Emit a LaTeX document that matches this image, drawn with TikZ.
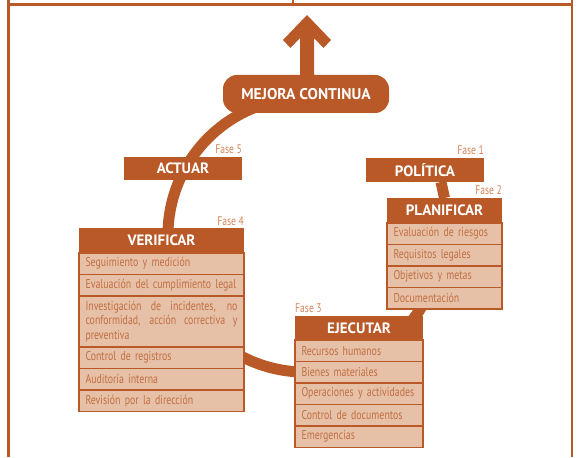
\documentclass[tikz,border=0pt]{standalone}
\usepackage{fontspec}
\setmainfont{PT Sans}[FakeStretch=0.77]
\newfontfamily\capsfont{PT Sans}
\usetikzlibrary{positioning,backgrounds}

\definecolor{rust}{RGB}{185,89,39}
\definecolor{peach}{RGB}{230,193,167}
\definecolor{itemtxt}{RGB}{194,110,66}
\definecolor{phasetxt}{RGB}{212,132,90}

\tikzset{
  x=1pt, y=1pt,
  head/.style={fill=rust, text=white, inner sep=0pt, outer sep=0pt,
    font=\capsfont\bfseries\fontsize{15}{15}\selectfont},
  item/.style={draw=rust, line width=1.6pt, fill=peach, text=itemtxt,
    inner xsep=6.5pt, inner ysep=0pt, outer sep=0pt, align=left,
    minimum height=21.5pt, anchor=north,
    font=\fontsize{12.8}{14.5}\selectfont},
  phase/.style={text=phasetxt, inner sep=0pt,
    font=\fontsize{12.5}{12.5}\selectfont},
  ring/.style={draw=rust, line width=11pt},
  frameline/.style={draw=rust, line width=2.6pt},
}

\begin{document}
\begin{tikzpicture}
\useasboundingbox (0,0) rectangle (577,457);

% outer frame
\draw[frameline] (8.7,457) -- (8.7,0);
\draw[frameline] (572,457) -- (572,0);
\draw[frameline] (7.4,452.3) -- (573.3,452.3);
\draw[frameline] (293,457) -- (293,452.3);

% top pill
\node[head, rounded corners=14pt, minimum width=166pt, minimum height=38pt,
  font=\capsfont\bfseries\fontsize{15.5}{15.5}\selectfont]
  (pill) at (306,363) {MEJORA CONTINUA};

% phase headers
\node[head, minimum width=118pt, minimum height=23pt] (act) at (183,288.5) {ACTUAR};
\node[head, minimum width=118pt, minimum height=24pt] (pol) at (425,287) {POLÍTICA};

% VERIFICAR block
\node[head, anchor=north west, minimum width=165pt, minimum height=25pt]
  (ver) at (79,229) {VERIFICAR};
\node[item, text width=152pt, below=0pt of ver] (ver1) {Seguimiento y medición};
\node[item, text width=152pt, below=0pt of ver1] (ver2) {Evaluación del cumplimiento legal};
\node[item, text width=152pt, below=0pt of ver2, minimum height=51pt, align=justify]
  (ver3) {\hyphenpenalty=10000 Investigación de incidentes, no\linebreak
  conformidad, acción correctiva y\linebreak preventiva};
\node[item, text width=152pt, below=0pt of ver3] (ver4) {Control de registros};
\node[item, text width=152pt, below=0pt of ver4] (ver5) {Auditoría interna};
\node[item, text width=152pt, below=0pt of ver5] (ver6) {Revisión por la dirección};

% PLANIFICAR block
\node[head, anchor=north west, minimum width=115pt, minimum height=25pt]
  (plan) at (387,259) {PLANIFICAR};
\node[item, text width=102pt, below=0pt of plan] (plan1) {Evaluación de riesgos};
\node[item, text width=102pt, below=0pt of plan1] (plan2) {Requisitos legales};
\node[item, text width=102pt, below=0pt of plan2] (plan3) {Objetivos y metas};
\node[item, text width=102pt, below=0pt of plan3] (plan4) {Documentación};

% EJECUTAR block
\node[head, anchor=north west, minimum width=128pt, minimum height=24pt]
  (eje) at (295,141) {EJECUTAR};
\node[item, text width=115pt, below=0pt of eje] (eje1) {Recursos humanos};
\node[item, text width=115pt, below=0pt of eje1] (eje2) {Bienes materiales};
\node[item, text width=115pt, below=0pt of eje2] (eje3) {Operaciones y actividades};
\node[item, text width=115pt, below=0pt of eje3] (eje4) {Control de documentos};
\node[item, text width=115pt, below=0pt of eje4] (eje5) {Emergencias};

% phase numbers
\node[phase, anchor=base east] (f1) at ([yshift=3pt]pol.north east) {Fase 1};
\node[phase, anchor=base east] (f2) at ([yshift=3pt]plan.north east) {Fase 2};
\node[phase, anchor=base west] (f3) at ([yshift=3pt]eje.north west) {Fase 3};
\node[phase, anchor=base east] (f4) at ([yshift=2.5pt]ver.north east) {Fase 4};
\node[phase, anchor=base east] (f5) at ([yshift=3pt]act.north east) {Fase 5};

\begin{pgfonlayer}{background}
  % the improvement cycle
  \coordinate (hub) at (305,222);
  \draw[ring] (hub) ++(108:137) arc[start angle=108, end angle=350, radius=137];
  \draw[ring] ([xshift=16pt]pol.south) -- (plan.north);
  % upward arrow out of the pill
  \coordinate (ab) at ([xshift=0.5pt,yshift=-6pt]pill.north);
  \fill[rust] (ab) ++(-6.5,0) -- ++(0,43) -- ++(-9.5,-10) -- ++(-7.5,8)
    -- ++(24,25) -- ++(24,-25) -- ++(-7.5,-8) -- ++(-9.5,10) -- ++(0,-43) -- cycle;
\end{pgfonlayer}
\end{tikzpicture}
\end{document}
